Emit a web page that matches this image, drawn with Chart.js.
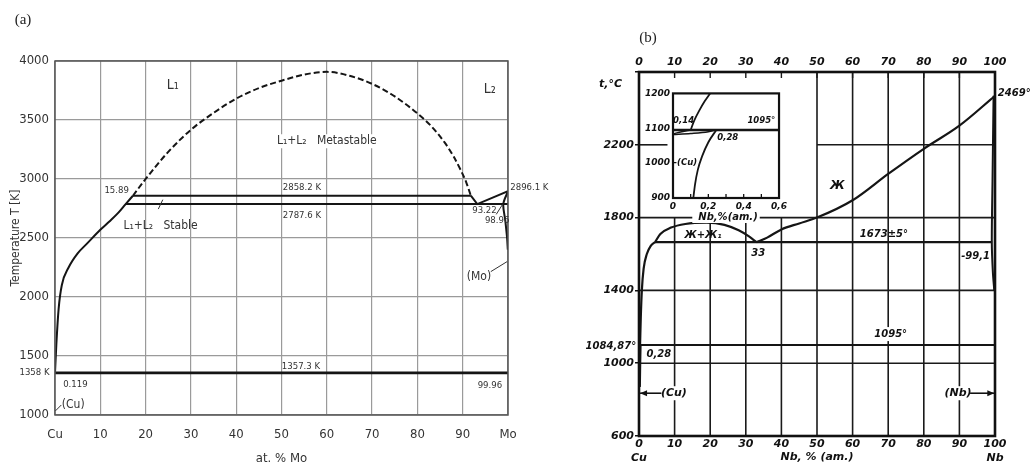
<!DOCTYPE html>
<html>
<head>
<meta charset="utf-8">
<script src="https://cdn.jsdelivr.net/npm/chart.js@4.4.1/dist/chart.umd.min.js"></script>
<style>
  html, body { margin: 0; padding: 0; background: #fff; }
  #wrap { position: relative; width: 1031px; height: 466px; overflow: hidden; }
  #wrap canvas { position: absolute; }
  #chart-a { left: 0; top: 0; }
  #chart-b { left: 560px; top: 0; }
  #chart-inset { left: 640px; top: 85px; }
</style>
</head>
<body>
<div id="wrap">
  <canvas id="chart-a" width="560" height="466"></canvas>
  <canvas id="chart-b" width="471" height="466"></canvas>
  <canvas id="chart-inset" width="150" height="150"></canvas>
</div>
<script>
// ---------- (a) Cu-Mo, temperatura em K ----------
var aTickLabelsX = ['Cu', '10', '20', '30', '40', '50', '60', '70', '80', '90', 'Mo'];
var aTickLabelsY = ['1000', '1500', '2000', '2500', '3000', '3500', '4000'];
var aLiquidusX = [0, 0.3, 0.8, 1.5, 3, 5, 7, 10, 12, 14, 15.6, 17.2];
var aLiquidusT = [1358, 1600, 1900, 2100, 2250, 2370, 2450, 2570, 2640, 2715, 2787.6, 2858.2];
var aGapX = [17.2, 20, 25, 30, 35, 40, 45, 50, 55, 60, 65, 70, 75, 80, 83, 86, 88, 89.5, 90.8, 91.8];
var aGapT = [2858.2, 3000, 3230, 3417, 3560, 3681, 3770, 3833, 3885, 3908, 3875, 3806, 3700, 3556, 3450, 3310, 3190, 3080, 2970, 2858.2];
var aMetastableX = [17.2, 91.8], aMetastableT = 2858.2;
var aMonotecticX = [15.6, 100], aMonotecticT = 2787.6;
var aL2X = [91.8, 93.22, 100];
var aL2T = [2858.2, 2787.6, 2896.1];
var aMoSolidusX = [100, 98.96, 99.4, 99.8, 99.96];
var aMoSolidusT = [2896.1, 2787.6, 2650, 2500, 2400];
var aEutecticX = [0, 100], aEutecticT = 1357.3;

// ---------- (b) Cu-Nb, temperatura em C ----------
var bTickLabelsX = [['0', 'Cu'], '10', '20', '30', '40', '50', '60', '70', '80', '90', ['100', 'Nb']];
var bTickLabelsTop = ['0', '10', '20', '30', '40', '50', '60', '70', '80', '90', '100'];
var bTickLabelsY = ['600', '1000', '1400', '1800', '2200', ''];
var bLeftLiqX = [0.3, 0.5, 0.8, 1.3, 2.2, 3.3, 4.5];
var bLeftLiqT = [1100, 1250, 1400, 1520, 1600, 1645, 1665];
var bDomeX = [4.5, 6, 9, 13, 19, 24, 28, 31, 33];
var bDomeT = [1665, 1710, 1745, 1765, 1772, 1760, 1730, 1695, 1665];
var bLiquidusX = [33, 36, 40, 45, 50, 60, 70, 80, 90, 100];
var bLiquidusT = [1665, 1690, 1735, 1768, 1800, 1895, 2040, 2178, 2305, 2469];
var bNbSolidusX = [99.6, 99.3, 99.1, 99.4, 99.8];
var bNbSolidusT = [2469, 2000, 1665, 1500, 1400];
var bCuSolidusX = [0.4, 0.3, 0.2];
var bCuSolidusT = [1100, 1000, 870];
var bMonotecticX = [4.5, 99.2], bMonotecticT = 1665;
var bCuMeltX = [0, 100], bCuMeltT = 1100;

// ---------- detalhe (Cu) ----------
var iTickLabelsX = ['0', '0,2', '0,4', '0,6'];
var iTickLabelsY = ['900', '1000', '1100', '1200'];
var iLiquidusX = [0.10, 0.12, 0.15, 0.18, 0.21];
var iLiquidusT = [1095, 1122, 1152, 1178, 1200];
var iLensUpX = [0, 0.05, 0.10];
var iLensUpT = [1084, 1090, 1095];
var iLensLowX = [0, 0.1, 0.2, 0.245];
var iLensLowT = [1082, 1085, 1090, 1095];
var iSolidusX = [0.115, 0.125, 0.14, 0.165, 0.2, 0.245];
var iSolidusT = [900, 940, 980, 1020, 1060, 1095];
var iMeltX = [0, 0.6], iMeltT = 1095;

var NARROW = "'Liberation Sans Narrow', 'DejaVu Sans Condensed', sans-serif";
var HAND = "'DejaVu Sans', sans-serif";
var SERIF = "'Liberation Serif', 'DejaVu Serif', serif";

function pts(xs, ys) { return xs.map(function(x, i) { return { x: x, y: ys[i] }; }); }
function flat(xs, t) { return xs.map(function(x) { return { x: x, y: t }; }); }
function line(data, opts) {
    return Object.assign({ data: data, showLine: true, pointRadius: 0, borderColor: '#151515',
        borderWidth: 2, fill: false, tension: 0 }, opts || {});
}
function smooth(extra) { return Object.assign({ cubicInterpolationMode: 'monotone' }, extra || {}); }

function drawLabels(chart, labels, baseFont, size, color) {
    var ctx = chart.ctx, xs = chart.scales.x, ys = chart.scales.y;
    ctx.save();
    ctx.textBaseline = 'middle';
    labels.forEach(function(l) {
        var px = xs.getPixelForValue(l.x), py = ys.getPixelForValue(l.y);
        ctx.font = baseFont.replace('{s}', l.size || size);
        ctx.textAlign = l.align || 'center';
        if (l.bg) {
            var w = ctx.measureText(l.text).width;
            var x0 = l.align === 'left' ? px : (l.align === 'right' ? px - w : px - w / 2);
            ctx.fillStyle = '#fff';
            ctx.fillRect(x0 - 3, py - 7, w + 6, 14);
        }
        ctx.fillStyle = color;
        ctx.fillText(l.text, px, py);
    });
    ctx.restore();
}

function drawSegs(chart, segs, color, width) {
    var ctx = chart.ctx, xs = chart.scales.x, ys = chart.scales.y;
    ctx.save();
    ctx.strokeStyle = color; ctx.lineWidth = width;
    segs.forEach(function(s) {
        ctx.beginPath();
        ctx.moveTo(xs.getPixelForValue(s[0]), ys.getPixelForValue(s[1]));
        ctx.lineTo(xs.getPixelForValue(s[2]), ys.getPixelForValue(s[3]));
        ctx.stroke();
    });
    ctx.restore();
}

function drawArrow(chart, x0, x1, t) {
    var ctx = chart.ctx, xs = chart.scales.x, ys = chart.scales.y;
    var p0 = xs.getPixelForValue(x0), p1 = xs.getPixelForValue(x1), py = ys.getPixelForValue(t);
    var d = p1 > p0 ? -1 : 1;
    ctx.save();
    ctx.strokeStyle = '#111'; ctx.fillStyle = '#111'; ctx.lineWidth = 1.6;
    ctx.beginPath(); ctx.moveTo(p0, py); ctx.lineTo(p1, py); ctx.stroke();
    ctx.beginPath(); ctx.moveTo(p1, py); ctx.lineTo(p1 + d * 7, py - 3); ctx.lineTo(p1 + d * 7, py + 3); ctx.closePath(); ctx.fill();
    ctx.restore();
}

function frame(chart, color, width) {
    var a = chart.chartArea, ctx = chart.ctx;
    ctx.save();
    ctx.strokeStyle = color; ctx.lineWidth = width;
    ctx.strokeRect(a.left, a.top, a.right - a.left, a.bottom - a.top);
    ctx.restore();
}

// ----- rotulos (a)
var aLabels = [
    { text: 'L\u2081', x: 26, y: 3790, size: 14 },
    { text: 'L\u2082', x: 96, y: 3760, size: 14 },
    { text: 'L\u2081+L\u2082   Metastable', x: 60, y: 3320, size: 12, bg: true },
    { text: '15.89', x: 13.6, y: 2905 },
    { text: '2858.2 K', x: 54.5, y: 2925 },
    { text: '2787.6 K', x: 54.5, y: 2690 },
    { text: 'L\u2081+L\u2082   Stable', x: 23.3, y: 2605, size: 12 },
    { text: '93.22', x: 94.8, y: 2735 },
    { text: '98.96', x: 97.6, y: 2650 },
    { text: '2896.1 K', x: 100.5, y: 2925, align: 'left' },
    { text: '(Mo)', x: 93.6, y: 2170, size: 12 },
    { text: '1357.3 K', x: 54.3, y: 1412 },
    { text: '0.119', x: 1.8, y: 1255, align: 'left' },
    { text: '(Cu)', x: 1.5, y: 1090, align: 'left', size: 12 },
    { text: '99.96', x: 96, y: 1250 },
    { text: '1358 K', x: -1.2, y: 1358, align: 'right' }
];
var aLeaders = [
    [22.8, 2745, 23.8, 2825],
    [97.4, 2700, 98.8, 2785],
    [96.2, 2215, 99.8, 2300],
    [0.1, 1035, 1.4, 1085]
];

var aDecor = {
    id: 'aDecor',
    afterDatasetsDraw: function(chart) {
        frame(chart, '#555', 1.5);
        drawSegs(chart, aLeaders, '#333', 1);
        drawLabels(chart, aLabels, '{s}px ' + NARROW, 9.5, '#333');
        var a = chart.chartArea, ctx = chart.ctx;
        ctx.save();
        ctx.font = '15px ' + SERIF; ctx.fillStyle = '#222';
        ctx.textAlign = 'center'; ctx.textBaseline = 'middle';
        ctx.fillText('(a)', a.left - 32, a.top - 41);
        ctx.restore();
    }
};

new Chart(document.getElementById('chart-a'), {
    type: 'scatter',
    data: {
        datasets: [
            line(pts(aLiquidusX, aLiquidusT), smooth()),
            line(pts(aGapX, aGapT), smooth({ borderDash: [6, 3] })),
            line(flat(aMetastableX, aMetastableT)),
            line(flat(aMonotecticX, aMonotecticT)),
            line(pts(aL2X, aL2T)),
            line(pts(aMoSolidusX, aMoSolidusT), { tension: 0.3 }),
            line(flat(aEutecticX, aEutecticT), { borderWidth: 2.6 })
        ]
    },
    options: {
        responsive: false, animation: false,
        layout: { padding: { top: 61, right: 52, left: 0, bottom: 0 } },
        plugins: { legend: { display: false }, tooltip: { enabled: false } },
        scales: {
            x: {
                type: 'linear', min: 0, max: 100,
                afterFit: function(s) { s.height = 51; },
                ticks: { stepSize: 10, padding: 12, color: '#333', font: { family: NARROW, size: 13 },
                    callback: function(v, i) { return aTickLabelsX[i]; } },
                grid: { color: '#9a9a9a', lineWidth: 1.2, drawTicks: false },
                border: { display: false },
                title: { display: true, text: 'at. % Mo', color: '#333', font: { family: NARROW, size: 13 }, padding: { top: 0, bottom: 0 } }
            },
            y: {
                min: 1000, max: 4000,
                afterFit: function(s) { s.width = 55; },
                ticks: { stepSize: 500, padding: 6, color: '#333', font: { family: NARROW, size: 13 },
                    callback: function(v, i) { return aTickLabelsY[i]; } },
                grid: { color: '#9a9a9a', lineWidth: 1.2, drawTicks: false },
                border: { display: false },
                title: { display: true, text: 'Temperature T [K]', color: '#333', font: { family: NARROW, size: 12 }, padding: { top: 9, bottom: 0 } }
            }
        }
    },
    plugins: [aDecor]
});

// ----- rotulos (b)
var bLabels = [
    { text: '\u0416', x: 55.7, y: 1975, size: 12 },
    { text: '\u0416+\u0416\u2081', x: 18, y: 1703 },
    { text: '1673\u00b15\u00b0', x: 68.8, y: 1705 },
    { text: '33', x: 33.5, y: 1605 },
    { text: '-99,1', x: 98.6, y: 1585, align: 'right' },
    { text: '1095\u00b0', x: 70.7, y: 1160, bg: true },
    { text: '0,28', x: 5.6, y: 1050 },
    { text: '(Cu)', x: 9.8, y: 835, size: 11, bg: true },
    { text: '(Nb)', x: 89.6, y: 835, size: 11, bg: true },
    { text: '2469\u00b0', x: 100.8, y: 2480, align: 'left' },
    { text: '1084,87\u00b0', x: -0.8, y: 1095, align: 'right' },
    { text: 't,\u00b0C', x: -8, y: 2535, size: 11 }
];
// grade parcial: [valor, de, ate]
var bGridV = [[10, 600, 1800], [20, 600, 1800], [30, 600, 1800], [40, 600, 1800],
              [50, 600, 2600], [60, 600, 2600], [70, 600, 2600], [80, 600, 2600], [90, 600, 2600]];
var bGridH = [[1000, 0, 100], [1400, 0, 100], [1800, 0, 100], [2200, 0, 8], [2200, 50, 100]];

var bDecor = {
    id: 'bDecor',
    beforeDatasetsDraw: function(chart) {
        var segs = bGridV.map(function(g) { return [g[0], g[1], g[0], g[2]]; })
            .concat(bGridH.map(function(g) { return [g[1], g[0], g[2], g[0]]; }));
        drawSegs(chart, segs, '#1a1a1a', 1.6);
        var ctx = chart.ctx, xs = chart.scales.x, top = chart.chartArea.top;
        ctx.save(); ctx.strokeStyle = '#1a1a1a'; ctx.lineWidth = 1.4;
        bTickLabelsTop.forEach(function(t) {
            var px = xs.getPixelForValue(Number(t));
            ctx.beginPath(); ctx.moveTo(px, top); ctx.lineTo(px, top + 6); ctx.stroke();
        });
        ctx.restore();
    },
    afterDatasetsDraw: function(chart) {
        frame(chart, '#111', 2.6);
        drawLabels(chart, bLabels, 'italic bold {s}px ' + HAND, 10, '#111');
        drawArrow(chart, 6.3, 0.3, 835);
        drawArrow(chart, 93, 99.8, 835);
        var a = chart.chartArea, ctx = chart.ctx;
        ctx.save();
        ctx.font = '15px ' + SERIF; ctx.fillStyle = '#222';
        ctx.textAlign = 'center'; ctx.textBaseline = 'middle';
        ctx.fillText('(b)', a.left + 9, a.top - 34);
        ctx.restore();
    }
};

var bTickFont = { family: HAND, size: 11, style: 'italic', weight: 'bold' };
new Chart(document.getElementById('chart-b'), {
    type: 'scatter',
    data: {
        datasets: [
            line(pts(bLeftLiqX, bLeftLiqT), smooth({ borderWidth: 2.2 })),
            line(pts(bDomeX, bDomeT), smooth({ borderWidth: 2.2 })),
            line(pts(bLiquidusX, bLiquidusT), smooth({ borderWidth: 2.2 })),
            line(pts(bNbSolidusX, bNbSolidusT), { tension: 0.3, borderWidth: 2 }),
            line(pts(bCuSolidusX, bCuSolidusT), { borderWidth: 2.4 }),
            line(flat(bMonotecticX, bMonotecticT), { borderWidth: 2.2 }),
            line(flat(bCuMeltX, bCuMeltT), { borderWidth: 2.2 })
        ]
    },
    options: {
        responsive: false, animation: false,
        layout: { padding: { top: 0, right: 36, left: 0, bottom: 0 } },
        plugins: { legend: { display: false }, tooltip: { enabled: false } },
        scales: {
            x: {
                type: 'linear', min: 0, max: 100,
                afterFit: function(s) { s.height = 30; },
                ticks: { stepSize: 10, padding: 2, color: '#111', font: bTickFont,
                    callback: function(v, i) { return bTickLabelsX[i]; } },
                grid: { display: false, drawTicks: false },
                border: { display: false },
                title: { display: true, text: 'Nb, % (am.)', color: '#111', font: bTickFont, padding: { top: 0, bottom: 2 } }
            },
            xTop: {
                type: 'linear', position: 'top', min: 0, max: 100,
                afterFit: function(s) { s.height = 72; },
                ticks: { stepSize: 10, padding: 3, color: '#111', font: bTickFont,
                    callback: function(v, i) { return bTickLabelsTop[i]; } },
                grid: { display: false, drawTicks: false },
                border: { display: false }
            },
            y: {
                min: 600, max: 2600,
                afterFit: function(s) { s.width = 79; },
                ticks: { stepSize: 400, padding: 1, color: '#111', font: bTickFont,
                    callback: function(v, i) { return bTickLabelsY[i]; } },
                grid: { drawOnChartArea: false, drawTicks: true, tickLength: 4, color: '#111', lineWidth: 1.5 },
                border: { display: false }
            }
        }
    },
    plugins: [bDecor]
});

// ----- detalhe
var iLabels = [
    { text: '0,14', x: 0.06, y: 1120 },
    { text: '0,28', x: 0.31, y: 1073 },
    { text: '1095\u00b0', x: 0.5, y: 1121 },
    { text: '-(Cu)', x: 0.07, y: 1000 }
];
var iDecor = {
    id: 'iDecor',
    beforeDraw: function(chart) {
        var a = chart.chartArea, ctx = chart.ctx;
        ctx.save(); ctx.fillStyle = '#fff';
        ctx.fillRect(a.left, a.top, a.right - a.left, a.bottom - a.top);
        ctx.restore();
    },
    afterDatasetsDraw: function(chart) {
        frame(chart, '#111', 2.2);
        var ctx = chart.ctx, xs = chart.scales.x, b = chart.chartArea.bottom;
        ctx.save(); ctx.strokeStyle = '#111'; ctx.lineWidth = 1.3;
        [0.1, 0.2, 0.3, 0.4, 0.5].forEach(function(v) {
            var px = xs.getPixelForValue(v);
            ctx.beginPath(); ctx.moveTo(px, b); ctx.lineTo(px, b - 4); ctx.stroke();
        });
        ctx.restore();
        drawLabels(chart, iLabels, 'italic bold {s}px ' + HAND, 8.5, '#111');
        // titulo do eixo do detalhe, com fundo branco sobre a linha de 1800
        var cx = (chart.chartArea.left + chart.chartArea.right) / 2;
        ctx.save();
        ctx.font = 'italic bold 10px ' + HAND;
        var w = ctx.measureText('Nb,%(am.)').width;
        ctx.fillStyle = '#fff'; ctx.fillRect(cx - w / 2 - 4, b + 14, w + 8, 11);
        ctx.fillStyle = '#111'; ctx.textAlign = 'center'; ctx.textBaseline = 'middle';
        ctx.fillText('Nb,%(am.)', cx + 2, b + 19);
        ctx.restore();
    }
};

var iTickFont = { family: HAND, size: 9, style: 'italic', weight: 'bold' };
new Chart(document.getElementById('chart-inset'), {
    type: 'scatter',
    data: {
        datasets: [
            line(flat(iMeltX, iMeltT), { borderWidth: 2.4 }),
            line(pts(iLiquidusX, iLiquidusT), smooth({ borderWidth: 1.8 })),
            line(pts(iLensUpX, iLensUpT), smooth({ borderWidth: 1.4 })),
            line(pts(iLensLowX, iLensLowT), smooth({ borderWidth: 1.4 })),
            line(pts(iSolidusX, iSolidusT), smooth({ borderWidth: 1.8 }))
        ]
    },
    options: {
        responsive: false, animation: false,
        layout: { padding: { top: 7, right: 9, left: 0, bottom: 0 } },
        plugins: { legend: { display: false }, tooltip: { enabled: false } },
        scales: {
            x: {
                type: 'linear', min: 0, max: 0.6,
                afterFit: function(s) { s.height = 37; },
                ticks: { stepSize: 0.2, padding: 3, color: '#111', font: iTickFont,
                    callback: function(v, i) { return iTickLabelsX[i]; } },
                grid: { display: false, drawTicks: false }, border: { display: false }
            },
            y: {
                min: 900, max: 1200,
                afterFit: function(s) { s.width = 33; },
                ticks: { stepSize: 100, padding: 3, color: '#111', font: iTickFont,
                    callback: function(v, i) { return iTickLabelsY[i]; } },
                grid: { display: false, drawTicks: false }, border: { display: false }
            }
        }
    },
    plugins: [iDecor]
});
</script>
</body>
</html>
